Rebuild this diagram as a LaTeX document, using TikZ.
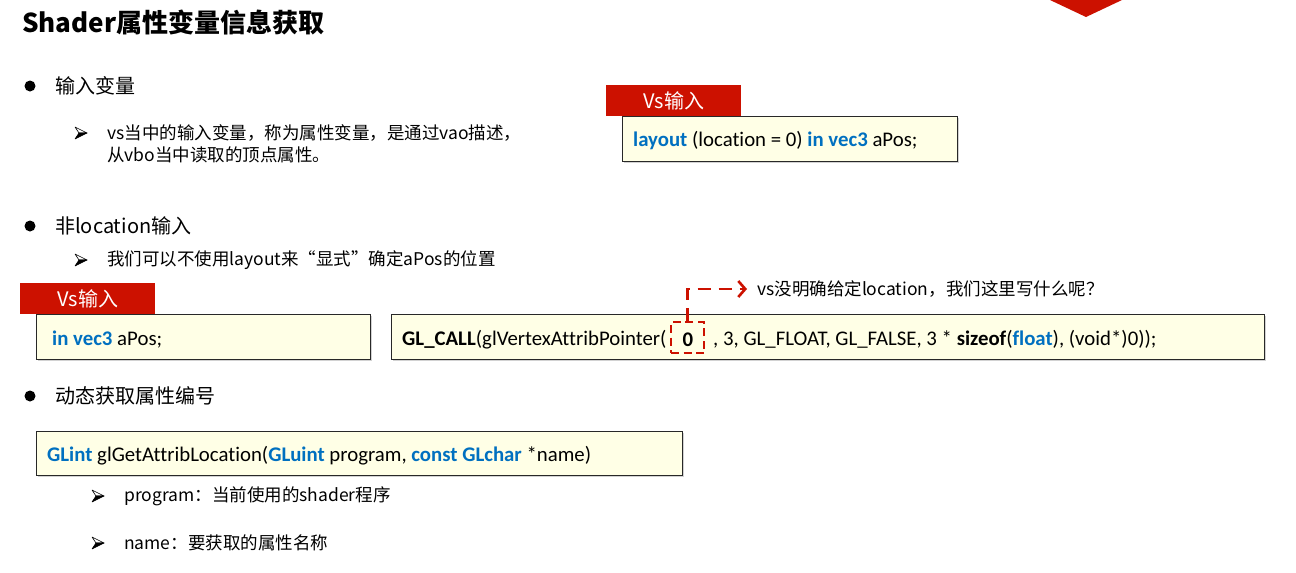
\documentclass[tikz,border=0pt]{standalone}
\usepackage{fontspec}
\setmainfont{Noto Sans CJK SC}
\newfontfamily\codefont[Ligatures={NoCommon}]{Carlito}
\usetikzlibrary{arrows.meta,shadows}
\definecolor{tabred}{RGB}{204,17,0}
\definecolor{kwblue}{RGB}{0,112,192}
\definecolor{boxfill}{RGB}{255,255,230}
\definecolor{boxline}{RGB}{40,40,40}
\newcommand\kwd[1]{\textbf{\textcolor{kwblue}{#1}}}
\newcommand\fsz[1]{\fontsize{#1}{#1}\selectfont}
\begin{document}
\begin{tikzpicture}[x=1pt,y=-1pt,
  codebox/.style={draw=boxline, line width=1.3pt, fill=boxfill, inner sep=0pt, anchor=north west,
    drop shadow={shadow xshift=1.2pt, shadow yshift=-1.2pt, opacity=0.35}},
  tabbox/.style={fill=tabred, text=white, inner sep=0pt, anchor=north west, minimum width=135pt, minimum height=31pt, font=\fsz{20}},
  codetxt/.style={anchor=west, inner sep=0pt, font=\codefont\fsz{20.8}},
  bodytxt/.style={anchor=west, inner sep=0pt, font=\fsz{20}},
  subtxt/.style={anchor=west, inner sep=0pt, font=\fsz{17.5}},
  arrowhd/.pic={
    \filldraw[draw=black, fill=white, line width=0.6pt, line join=round] (-6,-6) -- (6,0) -- (-2,0) -- cycle;
    \filldraw[draw=black, fill=black, line width=0.6pt, line join=round] (-2,0) -- (6,0) -- (-6,6) -- cycle;
  },
  reddash/.style={draw=tabred, line width=2.4pt},
]
\useasboundingbox (0,0) rectangle (1296,573);
\fill[white] (0,0) rectangle (1296,573);

% top red marker
\fill[tabred] (1050,0) -- (1122,0) -- (1086,17) -- cycle;

% title
\node[anchor=west, inner sep=0pt, font=\bfseries\fsz{26}] (title) at (22,22) {Shader属性变量信息获取};

% bullet 1
\fill (30,86) circle (5.5);
\node[bodytxt] (b1) at (55,86) {输入变量};
\pic at (81,133) {arrowhd};
\node[subtxt] (s1a) at (107,133) {vs当中的输入变量，称为属性变量，是通过vao描述，};
\node[subtxt] (s1b) at (107,155) {从vbo当中读取的顶点属性。};

\node[tabbox] (tab1) at (606,85) {Vs输入};
\node[codebox, minimum width=335pt, minimum height=45pt] (box1) at (622,116) {};
\node[codetxt] (c1) at (633,141) {\kwd{layout} (location = 0) \kwd{in vec3} aPos;};

% bullet 2
\fill (30,226) circle (5.5);
\node[bodytxt] (b2) at (55,226) {非location输入};
\pic at (81,260) {arrowhd};
\node[subtxt] (s2) at (107,260) {我们可以不使用layout来“显式”确定aPos的位置};

\node[tabbox] (tab2) at (20,283) {Vs输入};
\node[codebox, minimum width=334pt, minimum height=45pt] (box2) at (36,314) {};
\node[codetxt] (c2) at (52,339.5) {\kwd{in vec3} aPos;};

\node[codebox, minimum width=873pt, minimum height=45pt] (box3) at (391,314) {};
\node[codetxt] (c3a) at (402,339.5) {\textbf{GL\_CALL}(glVertexAttribPointer(};
\node[codetxt, anchor=center] (c3z) at (688,339.5) {\textbf{0}};
\node[codetxt] (c3b) at (713,339.5) {, 3, GL\_FLOAT, GL\_FALSE, 3 * \textbf{sizeof}(\kwd{float}), (void*)0));};

\node[reddash, dash pattern=on 8pt off 4.5pt, minimum width=33pt, minimum height=31pt, inner sep=0pt] (zero) at (687.5,337.5) {};
\node[subtxt] (q) at (757,289) {vs没明确给定location，我们这里写什么呢？};
\draw[reddash, dash pattern=on 13pt off 8pt, -{Straight Barb[length=7pt,width=16pt,line width=2.6pt]}]
  (zero.north) |- ([xshift=-10pt]q.west);

% bullet 3
\fill (30,396) circle (5.5);
\node[bodytxt] (b3) at (55,396) {动态获取属性编号};
\node[codebox, minimum width=646pt, minimum height=44pt] (box4) at (36,431) {};
\node[codetxt] (c4) at (47,455.5) {\kwd{GLint} glGetAttribLocation(\kwd{GLuint} program, \kwd{const GLchar} *name)};
\pic at (98,496) {arrowhd};
\node[subtxt] (s3) at (124,496) {program：当前使用的shader程序};
\pic at (98,543) {arrowhd};
\node[subtxt] (s4) at (124,543) {name：要获取的属性名称};
\end{tikzpicture}
\end{document}
